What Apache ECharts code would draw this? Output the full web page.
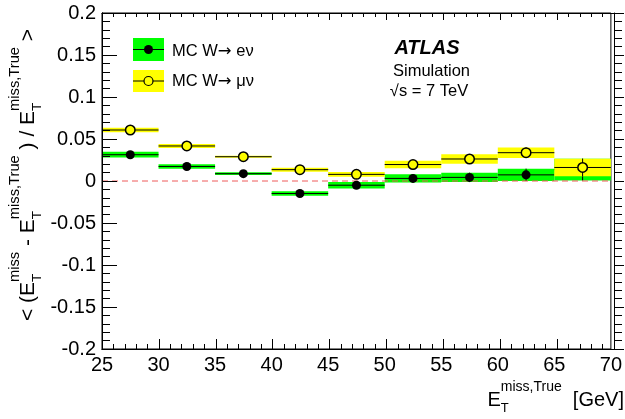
<!DOCTYPE html>
<html><head><meta charset="utf-8">
<script src="https://cdn.jsdelivr.net/npm/echarts@6/dist/echarts.min.js"></script>
<style>
html,body{margin:0;padding:0;background:#fff}
#wrap{position:relative;width:625px;height:419px}
#c,#t1,#t2{position:absolute;left:0;top:0;width:625px;height:419px}
#t1,#t2{pointer-events:none}
</style>
</head><body><div id="wrap"><div id="c"></div><div id="t1"></div><div id="t2"></div></div>
<script>
// ---- data ----
const binLow  = [25, 30, 35, 40, 45, 50, 55, 60, 65];
const binHigh = [30, 35, 40, 45, 50, 55, 60, 65, 70];
const eMean  = [0.0313, 0.0173, 0.0087, -0.0149, -0.0050, 0.0031, 0.0043, 0.0073, 0.0135];
const eErr   = [0.0034, 0.0026, 0.0016, 0.0026, 0.0038, 0.0048, 0.0056, 0.0074, 0.0130];
const muMean = [0.0607, 0.0417, 0.0289, 0.0135, 0.0079, 0.0196, 0.0262, 0.0337, 0.0161];
const muErr  = [0.0027, 0.0024, 0.0012, 0.0024, 0.0027, 0.0045, 0.0056, 0.0063, 0.0105];
const xTickValues = [25, 30, 35, 40, 45, 50, 55, 60, 65, 70];
const xTickLabels = ['25','30','35','40','45','50','55','60','65','70'];
const yTickValues = [-0.2, -0.15, -0.1, -0.05, 0, 0.05, 0.1, 0.15, 0.2];
const yTickLabels = ['-0.2','-0.15','-0.1','-0.05','0','0.05','0.1','0.15','0.2'];
const legendLabels = ['MC W\u2192 e\u03bd', 'MC W\u2192 \u03bc\u03bd'];

const FONT = '"Liberation Sans", Arial, Helvetica, sans-serif';
const ARROWFONT = '"DejaVu Sans", sans-serif';
const ctx = document.createElement('canvas').getContext('2d');
function measure(t, s, fam, w, st) { ctx.font = (st||'normal') + ' ' + (w||'normal') + ' ' + s + 'px ' + (fam || FONT); return ctx.measureText(t).width; }
function txt(t, x, y, s, extra) {
  return Object.assign({type: 'text', x: x, y: y, silent: true, style: Object.assign({text: t, fontSize: s, fontFamily: FONT, fill: '#000',
    align: 'left', verticalAlign: 'middle', textAlign: 'left', textVerticalAlign: 'middle'}, extra || {})});
}
function mathRow(parts, S) {
  const supS = S * 0.7, subS = S * 0.65;
  let x = 0; const kids = [];
  parts.forEach(p => {
    if (typeof p === 'string') { kids.push(txt(p, x, 0, S)); x += measure(p, S); }
    else if (p.f) { kids.push(txt(p.t, x, p.dy || 0, S, {fontFamily: p.f})); x += measure(p.t, S, p.f); }
    else {
      kids.push(txt(p.b, x, 0, S)); x += measure(p.b, S);
      kids.push(txt(p.sup, x, -0.62 * S, supS));
      kids.push(txt(p.sub, x, 0.42 * S, subS));
      x += Math.max(measure(p.sup, supS), measure(p.sub, subS));
    }
  });
  return {kids: kids, width: x};
}
function shift(row, dx) { row.kids.forEach(k => { k.x += dx; }); return row.kids; }
const EM = {b: 'E', sup: 'miss', sub: 'T'};
const ET = {b: 'E', sup: 'miss,True', sub: 'T'};
const yTitle = mathRow(['< (', EM, ' - ', ET, ' ) / ', ET, ' >'], 21);
const xTitle = mathRow([ET, '  [GeV]'], 20);
function legendRow(label) {
  const i = label.indexOf('\u2192');
  return mathRow([label.slice(0, i), {t: '\u2192', f: ARROWFONT, dy: 1}, label.slice(i + 1)], 16.5);
}
const leg0 = legendRow(legendLabels[0]);
const leg1 = legendRow(legendLabels[1]);

function bandRender(color) {
  return function (params, api) {
    const lo = api.value(0), hi = api.value(1), m = api.value(2), e = api.value(3);
    const c = (lo + hi) / 2;
    const a = api.coord([lo, m + e]), b = api.coord([hi, m - e]);
    const l = api.coord([lo, m]), r = api.coord([hi, m]);
    const t = api.coord([c, m + e]), d = api.coord([c, m - e]);
    return {type: 'group', children: [
      {type: 'rect', shape: {x: a[0], y: a[1], width: b[0] - a[0], height: b[1] - a[1]}, style: {fill: color}},
      {type: 'line', shape: {x1: l[0], y1: l[1], x2: r[0], y2: r[1]}, style: {stroke: '#000', lineWidth: 1}},
      {type: 'line', shape: {x1: t[0], y1: t[1], x2: d[0], y2: d[1]}, style: {stroke: '#000', lineWidth: 1}}
    ]};
  };
}
const eRows = binLow.map((lo, i) => [lo, binHigh[i], eMean[i], eErr[i]]);
const muRows = binLow.map((lo, i) => [lo, binHigh[i], muMean[i], muErr[i]]);
const ePts = binLow.map((lo, i) => [(lo + binHigh[i]) / 2, eMean[i]]);
const muPts = binLow.map((lo, i) => [(lo + binHigh[i]) / 2, muMean[i]]);

const X0 = xTickValues[0], X1 = xTickValues[xTickValues.length - 1];
const Y0 = yTickValues[0], Y1 = yTickValues[yTickValues.length - 1];
const G = {left: 102, right: 11, top: 13, bottom: 70};

const axisFont = {fontSize: 20, fontFamily: FONT, color: '#000'};

// ---------- main chart: frame, labels, data, texts ----------
const chart = echarts.init(document.getElementById('c'), null, {renderer: 'canvas'});
chart.setOption({
  animation: false,
  backgroundColor: '#fff',
  grid: Object.assign({show: true, borderColor: '#000', borderWidth: 1, backgroundColor: 'transparent'}, G),
  xAxis: {type: 'value', min: X0, max: X1, interval: 5, position: 'bottom',
    axisLine: {show: true, onZero: false, lineStyle: {color: '#000', width: 1}},
    axisTick: {show: false}, minorTick: {show: false},
    axisLabel: Object.assign({margin: 6, formatter: v => xTickLabels[xTickValues.indexOf(Math.round(v))]}, axisFont),
    splitLine: {show: false}},
  yAxis: {type: 'value', min: Y0, max: Y1, interval: 0.05, position: 'left',
    axisLine: {show: true, onZero: false, lineStyle: {color: '#000', width: 1}},
    axisTick: {show: false}, minorTick: {show: false},
    axisLabel: Object.assign({margin: 6, formatter: v => {
      let k = 0, best = 1e9; yTickValues.forEach((t, i) => { if (Math.abs(t - v) < best) { best = Math.abs(t - v); k = i; } });
      return yTickLabels[k]; }}, axisFont),
    splitLine: {show: false}},
  series: [
    {type: 'custom', name: 'e band', z: 2, renderItem: bandRender('#00ff00'),
     encode: {x: [0, 1], y: [2]}, data: eRows, silent: true},
    {type: 'line', name: 'zero', z: 3, data: [[X0, 0], [X1, 0]], symbol: 'none', silent: true,
     lineStyle: {color: '#ee5a5a', width: 1, type: [6, 4]}},
    {type: 'scatter', name: legendLabels[0], z: 4, data: ePts, symbol: 'circle', symbolSize: 9,
     itemStyle: {color: '#000', opacity: 1}, silent: true},
    {type: 'custom', name: 'mu band', z: 5, renderItem: bandRender('#ffff00'),
     encode: {x: [0, 1], y: [2]}, data: muRows, silent: true},
    {type: 'scatter', name: legendLabels[1], z: 6, data: muPts, symbol: 'circle', symbolSize: 9.5,
     itemStyle: {color: '#ffff00', borderColor: '#000', borderWidth: 1.5, opacity: 1}, silent: true}
  ],
  graphic: {elements: [
    {type: 'rect', shape: {x: 133, y: 38, width: 31, height: 23}, style: {fill: '#00ff00'}, silent: true},
    {type: 'line', shape: {x1: 133, y1: 49.5, x2: 164, y2: 49.5}, style: {stroke: '#000', lineWidth: 1}, silent: true},
    {type: 'circle', shape: {cx: 148.5, cy: 49.5, r: 4.5}, style: {fill: '#000'}, silent: true},
    {type: 'rect', shape: {x: 133, y: 70, width: 31, height: 22}, style: {fill: '#ffff00'}, silent: true},
    {type: 'line', shape: {x1: 133, y1: 81, x2: 164, y2: 81}, style: {stroke: '#000', lineWidth: 1}, silent: true},
    {type: 'circle', shape: {cx: 148.5, cy: 81, r: 4.5}, style: {fill: '#ffff00', stroke: '#000', lineWidth: 1.2}, silent: true},
    {type: 'group', x: 172, y: 51, children: leg0.kids},
    {type: 'group', x: 172, y: 81, children: leg1.kids},
    txt('ATLAS', 427, 48.5, 20, {fontWeight: 'bold', fontStyle: 'italic', align: 'center', textAlign: 'center'}),
    txt('Simulation', 431.5, 71, 16.5, {align: 'center', textAlign: 'center'}),
    txt('\u221as = 7 TeV', 429, 91.5, 16.5, {align: 'center', textAlign: 'center'}),
    {type: 'group', x: 28, y: 175, rotation: Math.PI / 2, children: shift(yTitle, -yTitle.width / 2)},
    {type: 'group', x: 624 - xTitle.width, y: 400, children: xTitle.kids}
  ]}
});

// ---------- tick layers: axes-only ECharts instances over the same grid ----------
function tickAxis(base, pos, inside, len, minorLen) {
  return Object.assign({type: 'value', position: pos,
    axisLine: {show: true, onZero: false, lineStyle: {color: '#000', width: 1}},
    axisTick: {show: true, inside: inside, length: len, lineStyle: {color: '#000', width: 1}},
    minorTick: {show: true, splitNumber: 5, length: minorLen, lineStyle: {color: '#000', width: 1}},
    axisLabel: {show: false}, splitLine: {show: false}, minorSplitLine: {show: false}}, base);
}
const xBase = {min: X0, max: X1, interval: 5};
const yBase = {min: Y0, max: Y1, interval: 0.05};
const t1 = echarts.init(document.getElementById('t1'), null, {renderer: 'canvas'});
t1.setOption({
  animation: false, backgroundColor: 'rgba(0,0,0,0)', grid: G,
  xAxis: tickAxis(xBase, 'bottom', true, 10, 5),
  yAxis: tickAxis(yBase, 'left', true, 15, 8),
  series: [{type: 'scatter', data: [], silent: true}]
});
const t2 = echarts.init(document.getElementById('t2'), null, {renderer: 'canvas'});
t2.setOption({
  animation: false, backgroundColor: 'rgba(0,0,0,0)', grid: G,
  xAxis: tickAxis(xBase, 'top', true, 7, 4),
  yAxis: tickAxis(yBase, 'right', false, 10, 8),
  series: [{type: 'scatter', data: [], silent: true}]
});
</script>
</body></html>
